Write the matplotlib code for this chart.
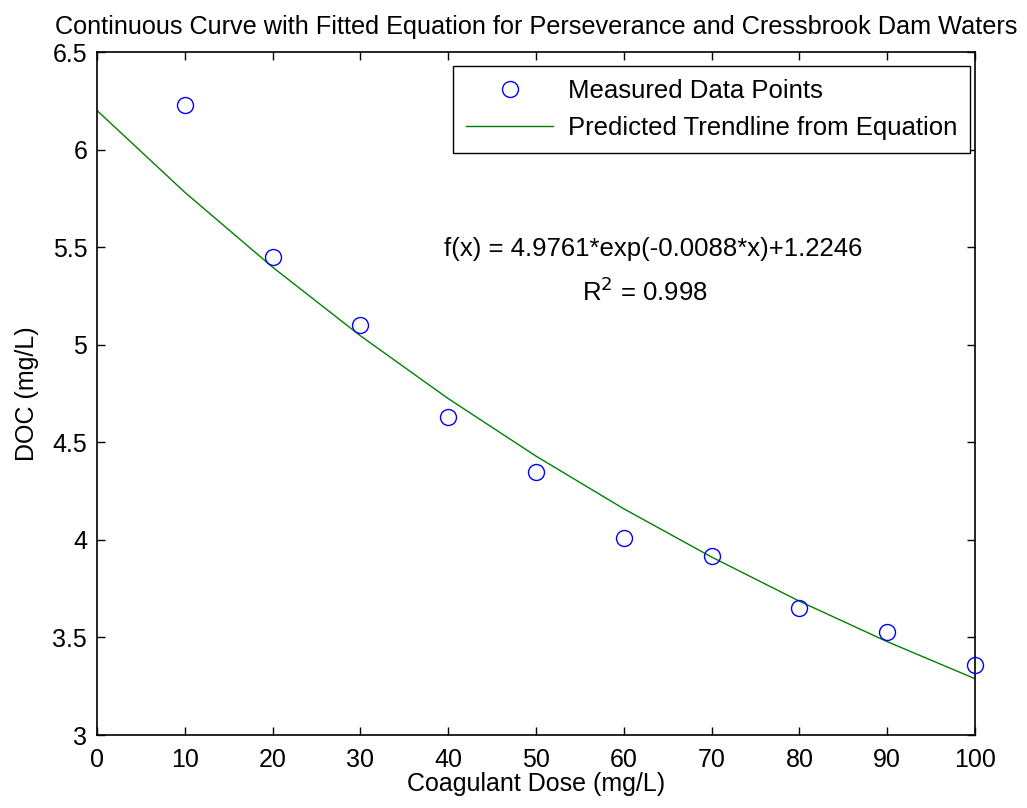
import matplotlib
matplotlib.use('Agg')
import matplotlib.pyplot as plt

plt.rcParams['font.family'] = ['Liberation Sans', 'DejaVu Sans']

# measured data
dose = [10, 20, 30, 40, 50, 60, 70, 80, 90, 100]
doc = [6.23, 5.45, 5.10, 4.63, 4.35, 4.01, 3.92, 3.65, 3.53, 3.36]

# trendline values from the fitted equation, read at 10 mg/L steps
fit_x = [0, 10, 20, 30, 40, 50, 60, 70, 80, 90, 100]
fit_y = [6.2007, 5.7815, 5.3977, 5.0461, 4.7242, 4.4294, 4.1594, 3.9122, 3.6858, 3.4785, 3.2886]

x_ticks = [0, 10, 20, 30, 40, 50, 60, 70, 80, 90, 100]
y_ticks = [3, 3.5, 4, 4.5, 5, 5.5, 6, 6.5]
y_tick_labels = ['3', '3.5', '4', '4.5', '5', '5.5', '6', '6.5']

fig = plt.figure(figsize=(10.27, 8.08), dpi=100)
ax = fig.add_axes([0.0944, 0.0903, 0.855, 0.8453])

ax.plot(dose, doc, 'o', markerfacecolor='none', markeredgecolor='blue',
        markersize=11.5, markeredgewidth=1.0, label='Measured Data Points',
        clip_on=False, zorder=3)
ax.plot(fit_x, fit_y, color='#008000', linewidth=1.0,
        label='Predicted Trendline from Equation')

ax.set_xlim(0, 100)
ax.set_ylim(3, 6.5)
ax.set_xticks(x_ticks)
ax.set_yticks(y_ticks)
ax.set_yticklabels(y_tick_labels)
ax.tick_params(direction='in', length=6, width=1, top=True, right=True,
               labelsize=18)
ax.tick_params(axis='x', pad=9)
ax.tick_params(axis='y', pad=7)
for s in ax.spines.values():
    s.set_linewidth(1.2)

ax.set_xlabel('Coagulant Dose (mg/L)', fontsize=18, labelpad=0)
ax.set_ylabel('DOC (mg/L)', fontsize=18, labelpad=10)
ax.set_title('Continuous Curve with Fitted Equation for Perseverance and Cressbrook Dam Waters',
             fontsize=18.2, pad=13)

ax.text(63.3, 5.49, 'f(x) = 4.9761*exp(-0.0088*x)+1.2246', fontsize=18.5,
        ha='center', va='center')
ax.text(62.4, 5.27, 'R$^2$ = 0.998', fontsize=18.5, ha='center', va='center')

leg = ax.legend(loc='upper right', bbox_to_anchor=(0.994, 0.9795), fontsize=18.5,
                fancybox=False, framealpha=1, edgecolor='black',
                handlelength=3.4, handletextpad=0.55, borderpad=0.5,
                labelspacing=0.5, borderaxespad=0)
leg.get_frame().set_linewidth(1.0)

plt.savefig('out.png', dpi=100)
